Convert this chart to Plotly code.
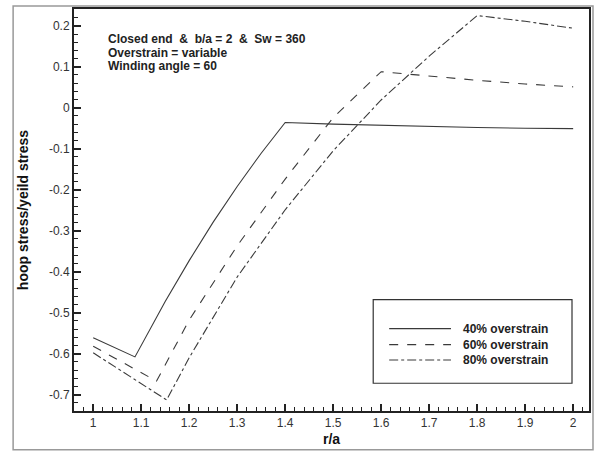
import plotly.graph_objects as go

# r/a positions and normalised hoop stress for each overstrain level
r_40 = [1.0, 1.087, 1.15, 1.2, 1.25, 1.3, 1.35, 1.4, 1.5, 1.6, 1.7, 1.8, 1.9, 2.0]
s_40 = [-0.561, -0.608, -0.473, -0.373, -0.279, -0.192, -0.111, -0.036,
        -0.040, -0.043, -0.046, -0.048, -0.050, -0.051]

r_60 = [1.0, 1.132, 1.2, 1.3, 1.4, 1.5, 1.6, 1.7, 1.8, 1.9, 2.0]
s_60 = [-0.582, -0.667, -0.518, -0.337, -0.174, -0.024, 0.088,
        0.077, 0.067, 0.058, 0.051]

r_80 = [1.0, 1.153, 1.2, 1.3, 1.4, 1.5, 1.6, 1.7, 1.8, 1.9, 2.0]
s_80 = [-0.598, -0.713, -0.610, -0.413, -0.249, -0.105, 0.019, 0.126,
        0.225, 0.211, 0.194]

series_names = ["40% overstrain", "60% overstrain", "80% overstrain"]
dash_styles = ["solid", "dash", "dashdot"]

x_ticks = [1.0, 1.1, 1.2, 1.3, 1.4, 1.5, 1.6, 1.7, 1.8, 1.9, 2.0]
x_tick_text = ["1", "1.1", "1.2", "1.3", "1.4", "1.5", "1.6", "1.7", "1.8", "1.9", "2"]
y_ticks = [0.2, 0.1, 0.0, -0.1, -0.2, -0.3, -0.4, -0.5, -0.6, -0.7]
y_tick_text = ["0.2", "0.1", "0", "-0.1", "-0.2", "-0.3", "-0.4", "-0.5", "-0.6", "-0.7"]

info_lines = ["Closed end  &  b/a = 2  &  Sw = 360",
              "Overstrain = variable",
              "Winding angle = 60"]

LINE = "#3a3a3a"
FONT = "Liberation Sans, Arial, sans-serif"

fig = go.Figure()
for xs, ys, name, dash in zip([r_40, r_60, r_80], [s_40, s_60, s_80],
                              series_names, dash_styles):
    fig.add_trace(go.Scatter(x=xs, y=ys, mode="lines", name=name,
                             line=dict(color=LINE, width=1.1, dash=dash),
                             showlegend=False))

axis_common = dict(
    showgrid=False, zeroline=False, showline=True, linecolor="#222",
    linewidth=2, mirror=True, ticks="inside", ticklen=7, tickwidth=1.5,
    tickcolor="#222", tickfont=dict(family=FONT, size=12, color="#333"),
)

fig.update_xaxes(range=[0.96, 2.033], tickvals=x_ticks, ticktext=x_tick_text,
                 minor=dict(dtick=0.02, ticks="inside", ticklen=4,
                            tickcolor="#222", tickwidth=1),
                 title=dict(text="<b>r/a</b>", font=dict(family=FONT, size=14, color="#111"),
                            standoff=5),
                 **axis_common)
fig.update_yaxes(range=[-0.74, 0.241], tickvals=y_ticks, ticktext=y_tick_text,
                 minor=dict(dtick=0.02, ticks="inside", ticklen=4,
                            tickcolor="#222", tickwidth=1),
                 title=dict(text="<b>hoop stress/yeild stress</b>",
                            font=dict(family=FONT, size=14, color="#111"), standoff=17),
                 **axis_common)

# descriptive text block in the upper left corner
for i, txt in enumerate(info_lines):
    fig.add_annotation(x=0.063, y=0.9247 - i * 0.0333, xref="paper", yref="paper",
                       xanchor="left", yanchor="middle", showarrow=False,
                       text="<b>" + txt + "</b>",
                       font=dict(family=FONT, size=12, color="#222"))

# legend box with line samples
fig.add_shape(type="rect", xref="paper", yref="paper", x0=0.581, x1=0.967,
              y0=0.069, y1=0.277, line=dict(color="#333", width=1.2),
              fillcolor="white", layer="below")
legend_rows = [0.205, 0.165, 0.127]
for yrow, name, dash in zip(legend_rows, series_names, dash_styles):
    fig.add_shape(type="line", xref="paper", yref="paper", x0=0.612, x1=0.732,
                  y0=yrow, y1=yrow, line=dict(color=LINE, width=1.1, dash=dash))
    fig.add_annotation(x=0.751, y=yrow, xref="paper", yref="paper",
                       xanchor="left", yanchor="middle", showarrow=False,
                       text="<b>" + name + "</b>",
                       font=dict(family=FONT, size=12, color="#222"))

# outer frame around the whole figure
fig.add_shape(type="rect", xref="paper", yref="paper",
              x0=(13 - 74) / 516, x1=(594 - 74) / 516,
              y0=(412 - 451) / 405, y1=(412 - 4) / 405,
              line=dict(color="#999", width=1.5), layer="below")

fig.update_layout(width=598, height=452,
                  margin=dict(l=74, r=8, t=7, b=40),
                  paper_bgcolor="white", plot_bgcolor="white",
                  showlegend=False)

fig.write_html("out.html")
